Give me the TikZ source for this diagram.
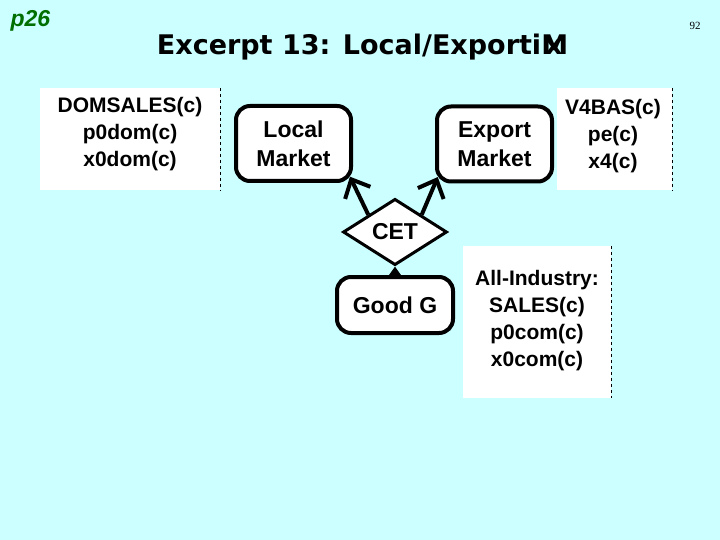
\documentclass[tikz,border=0pt]{standalone}
\usepackage{fontspec}
\setmainfont{Liberation Sans}
\newfontfamily\titlefont{DejaVu Sans}
\newfontfamily\pagefont{Liberation Serif}
\usetikzlibrary{shapes.geometric, arrows.meta, positioning, calc}
\definecolor{bgcyan}{RGB}{204,255,255}
\definecolor{pagegreen}{RGB}{0,110,0}

\begin{document}
\begin{tikzpicture}[
    x=1pt, y=-1pt,
    market/.style={rectangle, rounded corners=14pt, draw=black, line width=4pt, fill=white, minimum width=115pt, minimum height=75pt, align=center, font=\fontsize{23}{29}\selectfont\bfseries},
    transform/.style={diamond, draw=black, line width=3pt, fill=white, minimum width=104pt, minimum height=58pt, inner sep=1pt, font=\fontsize{23}{29}\selectfont\bfseries},
    infobox/.style={rectangle, fill=white, inner sep=0pt},
    infotext/.style={align=center, font=\fontsize{21}{27}\selectfont\bfseries},
    divider/.style={dashed, line width=0.8pt},
    link/.style={line width=4pt, -{Straight Barb[length=15pt, width=28pt]}, shorten >=-7pt}
]

% Page & Title
\fill[bgcyan] (0,0) rectangle (720,540);
\useasboundingbox (0,0) rectangle (720,540);
\node[anchor=base west, text=pagegreen, font=\fontsize{23}{26}\selectfont\bfseries\itshape] (page_tag) at (7,27) {p26};
\node[anchor=base west, font=\pagefont\fontsize{11}{13}\selectfont] (page_num) at (686,30) {92};
\node[anchor=base, font=\titlefont\fontsize{27}{32}\selectfont\bfseries] (title) at (362.5,55) {Excerpt 13: Local/Exporti\makebox[0pt][l]{\hspace{4pt}x}M};

% Info Boxes
\node[infobox, minimum width=180pt, minimum height=102pt] (dom_box) at (130,139) {};
\node[infotext] (dom_text) at (130,134) {DOMSALES(c)\\p0dom(c)\\x0dom(c)};
\draw[divider] (dom_box.north east) -- (dom_box.south east);

\node[infobox, minimum width=115pt, minimum height=102pt] (v4_box) at (614.5,139) {};
\node[infotext] (v4_text) at (613,136) {V4BAS(c)\\pe(c)\\x4(c)};
\draw[divider] (v4_box.north east) -- (v4_box.south east);

\node[infobox, minimum width=148pt, minimum height=152pt] (com_box) at (537,322) {};
\node[infotext] (com_text) at (537,321) {All-Industry:\\SALES(c)\\p0com(c)\\x0com(c)};
\draw[divider] (com_box.north east) -- (com_box.south east);

% Markets & CET Layout
\node[market] (local_mkt) at (293.5,143.5) {Local\\Market};
\node[market] (export_mkt) at (494.5,144) {Export\\Market};
\node[transform] (cet) at (395,232) {CET};
\node[market, minimum width=116pt, minimum height=56pt] (good_g) at (395,305) {Good G};

% Paths
\draw[link] (cet.north west) -- (local_mkt.south east);
\draw[link] (cet.north east) -- (export_mkt.south west);
\draw[line width=1pt, -{Triangle[length=10pt, width=14pt]}] (good_g.north) -- (cet.south);

\end{tikzpicture}
\end{document}
